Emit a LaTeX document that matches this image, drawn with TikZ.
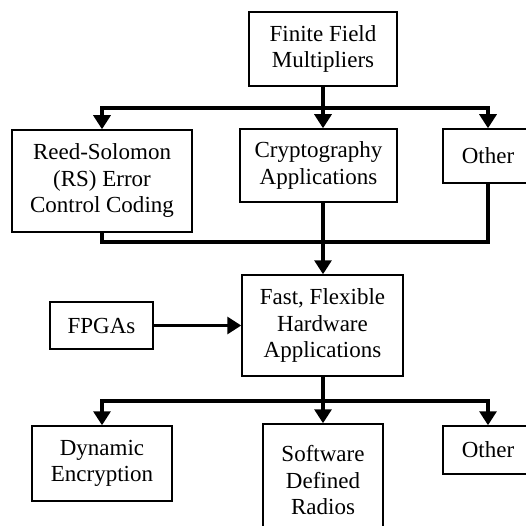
\documentclass[tikz,border=0pt]{standalone}
\usepackage{fontspec}
\setmainfont{Liberation Serif}
\usetikzlibrary{arrows.meta}
\begin{document}
\begin{tikzpicture}[x=1pt,y=-1pt,
  box/.style={draw=black,line width=1.5pt,rectangle,inner sep=0pt,align=center,
    font=\fontsize{23}{26.5}\selectfont},
  link/.style={line width=3.2pt,line join=miter,line cap=rect},
  arr/.style={line width=3.2pt,line join=miter,-{Triangle[width=17pt,length=14pt]}}]
\clip (0,0) rectangle (526,526);
% boxes
\node[box,minimum width=148pt,minimum height=74pt]  (ffm)    at (323,49)    {Finite Field\\Multipliers};
\node[box,minimum width=180pt,minimum height=102pt] (rs)     at (102,181)   {Reed-Solomon\\(RS) Error\\Control Coding};
\node[box,minimum width=157pt,minimum height=73pt]  (crypto) at (318.5,165.5) {Cryptography\\Applications};
\node[box,minimum width=90pt,minimum height=54pt]   (other1) at (488,156)   {Other};
\node[box,minimum width=161pt,minimum height=101pt] (ffh)    at (322.5,325.5) {Fast, Flexible\\Hardware\\Applications};
\node[box,minimum width=103pt,minimum height=47pt]  (fpga)   at (101.5,325.5) {FPGAs};
\node[box,minimum width=140pt,minimum height=75pt]  (dyn)    at (102,463.5) {Dynamic\\Encryption};
\node[box,minimum width=120pt,minimum height=112pt,text depth=0pt] (sdr) at (323,480) {Software\\Defined\\Radios};
\node[box,minimum width=90pt,minimum height=48pt]   (other2) at (488,450)   {Other};
% junctions
\coordinate (j1) at (323,108);
\coordinate (j2) at (323,242);
\coordinate (j3) at (323,401);
% upper fan-out
\draw[link] (ffm.south -| j1) -- (j1);
\draw[arr] (j1) -| (rs.north);
\draw[arr] (j1) -- (j1 |- crypto.north);
\draw[arr] (j1) -| (other1.north);
% collector into the hardware box
\draw[link] (rs.south) |- (j2) -| (other1.south);
\draw[arr] (j1 |- crypto.south) -- (j1 |- ffh.north);
\draw[arr] (fpga.east) -- (ffh.west);
% lower fan-out
\draw[link] (j1 |- ffh.south) -- (j3);
\draw[arr] (j3) -| (dyn.north);
\draw[arr] (j3) -- (sdr.north);
\draw[arr] (j3) -| (other2.north);
\end{tikzpicture}
\end{document}
